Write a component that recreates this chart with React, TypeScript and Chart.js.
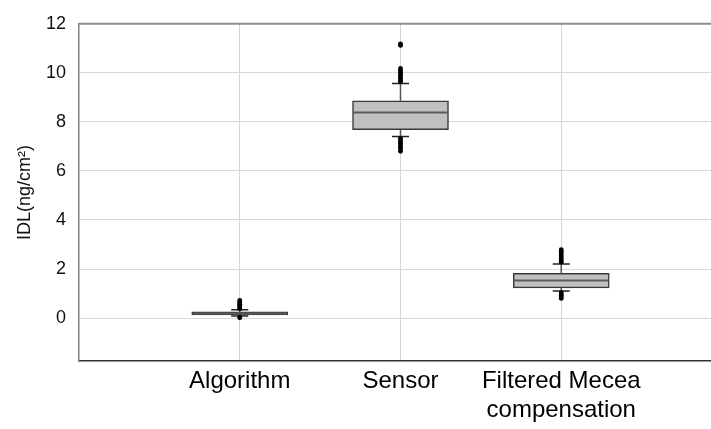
import React, { useEffect, useRef } from "react";
import { Chart, registerables } from "chart.js";

Chart.register(...registerables);

const categories: (string | string[])[] = ["Algorithm", "Sensor", ["Filtered Mecea", "compensation"]];
const q1 = [0.13, 7.68, 1.23];
const median = [0.19, 8.38, 1.53];
const q3 = [0.25, 8.86, 1.82];
const whiskerLow = [0.08, 7.4, 1.1];
const whiskerHigh = [0.34, 9.57, 2.21];
const algorithmOutliers = [0.72, 0.66, 0.61, 0.56, 0.51, 0.46, 0.42, 0.38, 0.04, 0.01];
const sensorOutliers = [11.18, 11.12, 10.18, 10.1, 10.02, 9.94, 9.86, 9.78, 9.7, 9.63, 7.33, 7.26, 7.19, 7.12, 7.05, 6.97, 6.89, 6.8];
const filteredOutliers = [2.79, 2.72, 2.65, 2.58, 2.5, 2.42, 2.35, 2.28, 1.04, 0.98, 0.92, 0.86, 0.8];
const outliers = [algorithmOutliers, sensorOutliers, filteredOutliers];
const yTicks = [0, 2, 4, 6, 8, 10, 12];

const FONT = "'Liberation Sans', Arial, sans-serif";

const boxPlugin = {
  id: "boxExtras",
  beforeDatasetsDraw(chart: any) {
    const { ctx, scales } = chart;
    const x = scales.x;
    const y = scales.y;
    ctx.save();
    categories.forEach((_, i) => {
      const cx = x.getPixelForValue(i + 1);
      ctx.strokeStyle = "#555555";
      ctx.lineWidth = 1.5;
      ctx.beginPath();
      ctx.moveTo(cx, y.getPixelForValue(whiskerHigh[i]));
      ctx.lineTo(cx, y.getPixelForValue(q3[i]));
      ctx.moveTo(cx, y.getPixelForValue(q1[i]));
      ctx.lineTo(cx, y.getPixelForValue(whiskerLow[i]));
      ctx.stroke();
      ctx.strokeStyle = "#222222";
      ctx.lineWidth = 1.5;
      ctx.beginPath();
      [whiskerHigh[i], whiskerLow[i]].forEach((v) => {
        const py = y.getPixelForValue(v);
        ctx.moveTo(cx - 8.5, py);
        ctx.lineTo(cx + 8.5, py);
      });
      ctx.stroke();
    });
    ctx.restore();
  },
  afterDatasetsDraw(chart: any) {
    const { ctx, scales } = chart;
    const y = scales.y;
    const meta = chart.getDatasetMeta(0);
    ctx.save();
    ctx.strokeStyle = "#5a5a5a";
    ctx.lineWidth = 2;
    meta.data.forEach((bar: any, i: number) => {
      const py = y.getPixelForValue(median[i]);
      ctx.beginPath();
      ctx.moveTo(bar.x - bar.width / 2 + 1, py);
      ctx.lineTo(bar.x + bar.width / 2 - 1, py);
      ctx.stroke();
    });
    ctx.restore();
  },
  afterDraw(chart: any) {
    const { ctx, chartArea } = chart;
    ctx.save();
    ctx.strokeStyle = "#8c8c8c";
    ctx.lineWidth = 2;
    ctx.beginPath();
    ctx.moveTo(chartArea.left, chartArea.top);
    ctx.lineTo(chartArea.right, chartArea.top);
    ctx.stroke();
    ctx.restore();
  },
};

export default function App() {
  const ref = useRef<HTMLCanvasElement | null>(null);
  useEffect(() => {
    document.body.style.margin = "0";
    const canvas = ref.current;
    if (!canvas) return;
    const chart = new Chart(canvas, {
      type: "bar",
      data: {
        datasets: [
          {
            type: "bar",
            data: categories.map((_, i) => ({ x: i + 1, y: [q1[i], q3[i]] })) as any,
            backgroundColor: "#c0c0c0",
            borderColor: "#3a3a3a",
            borderWidth: 1.5,
            borderSkipped: false,
            barThickness: 96,
            order: 2,
          } as any,
          {
            type: "scatter",
            data: outliers.flatMap((arr, i) => arr.map((v) => ({ x: i + 1, y: v }))),
            backgroundColor: "#000000",
            borderColor: "#000000",
            pointRadius: 2.4,
            borderWidth: 0,
            order: 1,
          } as any,
        ],
      },
      options: {
        responsive: false,
        animation: false,
        devicePixelRatio: 1,
        layout: { padding: { left: 0, top: 22, right: 38, bottom: 0 } },
        plugins: { legend: { display: false }, tooltip: { enabled: false } },
        scales: {
          x: {
            type: "linear",
            min: 0,
            max: 4,
            offset: false,
            afterBuildTicks(scale: any) {
              scale.ticks = categories.map((_, i) => ({ value: i + 1 }));
            },
            afterFit(scale: any) {
              scale.height = 68;
            },
            grid: { color: "#d4d4d4", lineWidth: 1, drawTicks: false, offset: false },
            border: { display: true, color: "#333333", width: 1.5 },
            ticks: {
              padding: 6,
              maxRotation: 0,
              autoSkip: false,
              color: "#000000",
              font: { family: FONT, size: 24 },
              callback: (v: any) => categories[Math.round(Number(v)) - 1] as any,
            },
          },
          y: {
            type: "linear",
            min: -1.75,
            max: 12,
            afterBuildTicks(scale: any) {
              scale.ticks = yTicks.map((v) => ({ value: v }));
            },
            afterFit(scale: any) {
              scale.width = 79;
            },
            grid: { color: "#d9d9d9", lineWidth: 1, drawTicks: false },
            border: { display: true, color: "#808080", width: 1.5 },
            ticks: {
              padding: 13,
              color: "#111111",
              font: { family: FONT, size: 18 },
            },
            title: {
              display: true,
              text: "IDL(ng/cm²)",
              color: "#111111",
              font: { family: FONT, size: 18 },
              padding: { top: 14, bottom: 0 },
            },
          },
        },
      } as any,
      plugins: [boxPlugin],
    });
    return () => chart.destroy();
  }, []);
  return (
    <div style={{ width: 711, height: 429, overflow: "hidden", background: "#ffffff" }}>
      <canvas ref={ref} width={760} height={429} style={{ display: "block" }} />
    </div>
  );
}
